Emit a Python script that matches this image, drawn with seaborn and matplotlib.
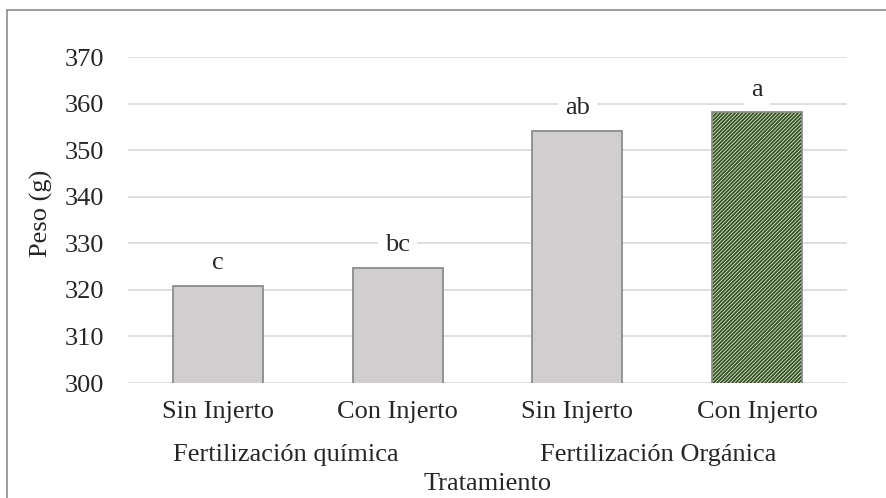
import matplotlib
matplotlib.use('Agg')
import matplotlib.pyplot as plt
import matplotlib.patches as mpatches
import seaborn as sns
import pandas as pd

# Data
tratamientos = ['Sin Injerto', 'Con Injerto', 'Sin Injerto ', 'Con Injerto ']
tick_labels = ['Sin Injerto', 'Con Injerto', 'Sin Injerto', 'Con Injerto']
grupos = ['Fertilización química', 'Fertilización Orgánica']
peso = [320.8, 324.7, 354.1, 358.1]
letras = ['c', 'bc', 'ab', 'a']

df = pd.DataFrame({'trat': tratamientos, 'peso': peso})

sns.set_style('white')
plt.rcParams['font.family'] = ['Liberation Serif', 'DejaVu Serif']
plt.rcParams['hatch.linewidth'] = 1.4
FS = 19

fig = plt.figure(figsize=(8.86, 4.98), dpi=100)
ax = fig.add_axes([128 / 886, 1 - 383 / 498, 719 / 886, 326 / 498])

sns.barplot(data=df, x='trat', y='peso', color='#d0cece', width=0.5,
            edgecolor='#8c8c8c', linewidth=1.3, ax=ax, zorder=3)

# last bar: green diagonal stripes
last = ax.patches[3]
last.set_facecolor('white')
last.set_edgecolor('#375623')
last.set_hatch('/' * 9)
last.set_linewidth(0)
ax.add_patch(mpatches.Rectangle((last.get_x(), last.get_y()), last.get_width(),
                                last.get_height(), fill=False, edgecolor='#8c8c8c',
                                linewidth=1.3, zorder=4))

ax.set_ylim(300, 370)
ax.set_yticks(range(300, 371, 10))
ax.yaxis.grid(True, color='#d9dde3', linewidth=1.3, zorder=0)
ax.set_axisbelow(True)
for s in ax.spines.values():
    s.set_visible(False)
ax.tick_params(axis='y', length=0, pad=17, labelsize=FS)
ax.set_xlim(-0.5, 3.5)
ax.set_xticks([])
ax.set_xlabel('')
ax.set_ylabel('')

# category labels under the bars
trans = ax.get_xaxis_transform()
for i, t in enumerate(tick_labels):
    ax.text(i, -0.09, t, transform=trans, ha='center', va='center', fontsize=FS)
ax.text(0.38, -0.22, grupos[0], transform=trans, ha='center', va='center', fontsize=FS)
ax.text(2.45, -0.22, grupos[1], transform=trans, ha='center', va='center', fontsize=FS)

# significance letters with white background
for i, (v, t) in enumerate(zip(peso, letras)):
    ax.text(i, v + 3.6, t, ha='center', va='baseline', fontsize=FS, zorder=5,
            bbox=dict(facecolor='white', edgecolor='none', pad=5))

fig.text(488 / 886, 1 - 484 / 498, 'Tratamiento', ha='center', va='center', fontsize=FS)
fig.text(41 / 886, 1 - 213 / 498, 'Peso (g)', rotation=90, ha='center', va='center',
         fontsize=FS)

# chart border
fig.patches.append(mpatches.Rectangle((7 / 886, -0.1), 1.2, 1 - 10 / 498 + 0.1,
                                      transform=fig.transFigure, fill=False,
                                      edgecolor='#8c8c8c', linewidth=1.2))

fig.savefig('out.png', dpi=100)
